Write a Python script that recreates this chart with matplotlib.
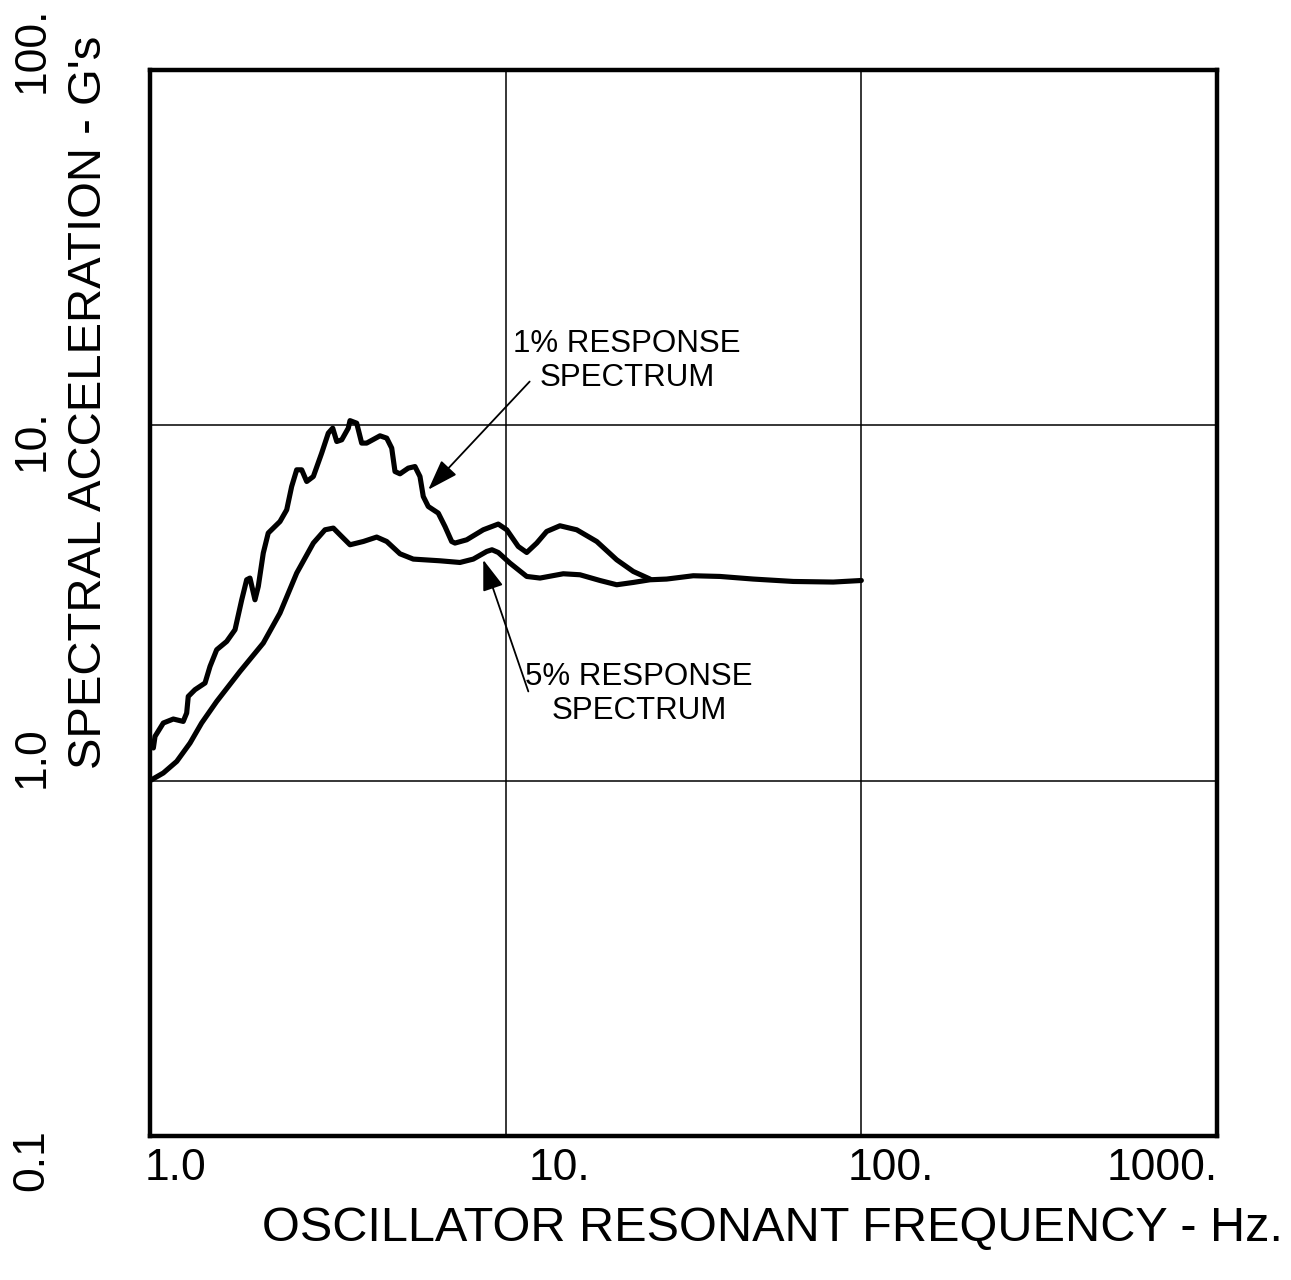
import matplotlib
matplotlib.use("Agg")
import matplotlib.pyplot as plt

plt.rcParams['font.family'] = ['Liberation Sans', 'DejaVu Sans']

# 1% damping response spectrum (Hz, G's)
freq_1pct = [1.022, 1.033, 1.090, 1.163, 1.240, 1.268, 1.281, 1.338, 1.428, 1.475,
             1.540, 1.643, 1.734, 1.811, 1.870, 1.910, 1.973, 2.016, 2.082, 2.150,
             2.320, 2.423, 2.502, 2.585, 2.670, 2.758, 2.879, 3.039, 3.172, 3.264,
             3.350, 3.460, 3.610, 3.650, 3.812, 3.937, 4.066, 4.433, 4.630, 4.782,
             4.885, 5.045, 5.323, 5.559, 5.742, 5.866, 6.059, 6.464, 6.751, 7.050,
             7.203, 7.771, 8.650, 9.533, 10.07, 10.85, 11.46, 12.23, 13.04, 14.21,
             15.84, 18.03, 20.52, 22.85, 25.46]
accel_1pct = [1.236, 1.332, 1.453, 1.491, 1.468, 1.550, 1.726, 1.803, 1.883, 2.097,
              2.336, 2.465, 2.660, 3.229, 3.677, 3.717, 3.229, 3.521, 4.370, 4.976,
              5.362, 5.785, 6.727, 7.496, 7.496, 6.949, 7.178, 8.354, 9.508, 9.820,
              9.005, 9.105, 9.820, 10.31, 10.14, 8.913, 8.913, 9.344, 9.204, 8.629,
              7.413, 7.304, 7.578, 7.656, 7.178, 6.306, 5.910, 5.662, 5.192, 4.711,
              4.663, 4.763, 5.082, 5.274, 5.082, 4.561, 4.387, 4.663, 5.027, 5.216,
              5.082, 4.711, 4.184, 3.879, 3.693]

# 5% damping response spectrum (Hz, G's)
freq_5pct = [1.000, 1.090, 1.189, 1.296, 1.397, 1.540, 1.791, 2.082, 2.320, 2.585,
             2.879, 3.105, 3.277, 3.421, 3.650, 3.979, 4.339, 4.630, 5.045, 5.498,
             6.536, 7.439, 8.108, 8.844, 9.152, 9.533, 10.28, 11.46, 12.49, 14.52,
             16.18, 18.41, 20.52, 22.85, 25.46, 28.36, 33.69, 40.05, 49.68, 64.38,
             83.37, 100.0]
accel_5pct = [1.000, 1.051, 1.133, 1.276, 1.453, 1.671, 2.030, 2.439, 2.963, 3.839,
              4.663, 5.082, 5.138, 4.920, 4.612, 4.711, 4.848, 4.711, 4.350, 4.203,
              4.157, 4.112, 4.203, 4.416, 4.465, 4.387, 4.096, 3.756, 3.717, 3.822,
              3.797, 3.659, 3.559, 3.613, 3.676, 3.693, 3.773, 3.756, 3.693, 3.636,
              3.622, 3.659]

x_tick_labels = ["1.0", "10.", "100.", "1000."]
y_tick_labels = ["0.1", "1.0", "10.", "100."]
x_label = "OSCILLATOR RESONANT FREQUENCY - Hz."
y_label = "SPECTRAL ACCELERATION - G's"
label_1pct = "1% RESPONSE\nSPECTRUM"
label_5pct = "5% RESPONSE\nSPECTRUM"

W, H = 1291, 1280
fig = plt.figure(figsize=(W / 100, H / 100), dpi=100)
ax = fig.add_axes([150 / W, 1 - 1136 / H, (1217 - 150) / W, (1136 - 70) / H])
ax.set_xscale('log')
ax.set_yscale('log')
ax.set_xlim(1, 1000)
ax.set_ylim(0.1, 100)

for xv in [10, 100]:
    ax.axvline(xv, color='black', lw=1.1, zorder=1)
for yv in [1, 10]:
    ax.axhline(yv, color='black', lw=1.1, zorder=1)

ax.plot(freq_5pct, accel_5pct, color='black', lw=3.7, solid_joinstyle='round',
        solid_capstyle='round', zorder=3)
ax.plot(freq_1pct, accel_1pct, color='black', lw=3.7, solid_joinstyle='round',
        solid_capstyle='round', zorder=3)

ax.set_xticks([])
ax.set_yticks([])
ax.minorticks_off()
ax.tick_params(which='both', length=0, labelbottom=False, labelleft=False)
for s in ax.spines.values():
    s.set_linewidth(3.2)
    s.set_color('black')

# arrows
arrow_style = '-|>,head_length=1.9,head_width=0.65'
ax.annotate('', xy=(6.06, 6.59), xytext=(11.68, 13.28),
            arrowprops=dict(arrowstyle=arrow_style, color='black', lw=1.3,
                            shrinkA=0, shrinkB=0))
ax.annotate('', xy=(8.65, 4.184), xytext=(11.58, 1.783),
            arrowprops=dict(arrowstyle=arrow_style, color='black', lw=1.3,
                            shrinkA=0, shrinkB=0))

def px(x, y):
    return x / W, 1 - y / H

fig.text(*px(627, 361), label_1pct, ha='center', va='center', fontsize=22.5,
         linespacing=1.15)
fig.text(*px(639, 694), label_5pct, ha='center', va='center', fontsize=22.5,
         linespacing=1.15)

x_tick_pos = [176, 560, 891, 1162]
for lab, xp in zip(x_tick_labels, x_tick_pos):
    fig.text(*px(xp, 1168), lab, ha='center', va='center', fontsize=32)

y_tick_pos = [1160, 757, 440, 50]
for lab, yp in zip(y_tick_labels, y_tick_pos):
    fig.text(*px(32, yp), lab, ha='center', va='center', fontsize=32, rotation=90)

fig.text(*px(773, 1228), x_label, ha='center', va='center', fontsize=35)
fig.text(*px(89, 402), y_label, ha='center', va='center', fontsize=34, rotation=90)

fig.savefig('out.png', dpi=100, facecolor='white')
